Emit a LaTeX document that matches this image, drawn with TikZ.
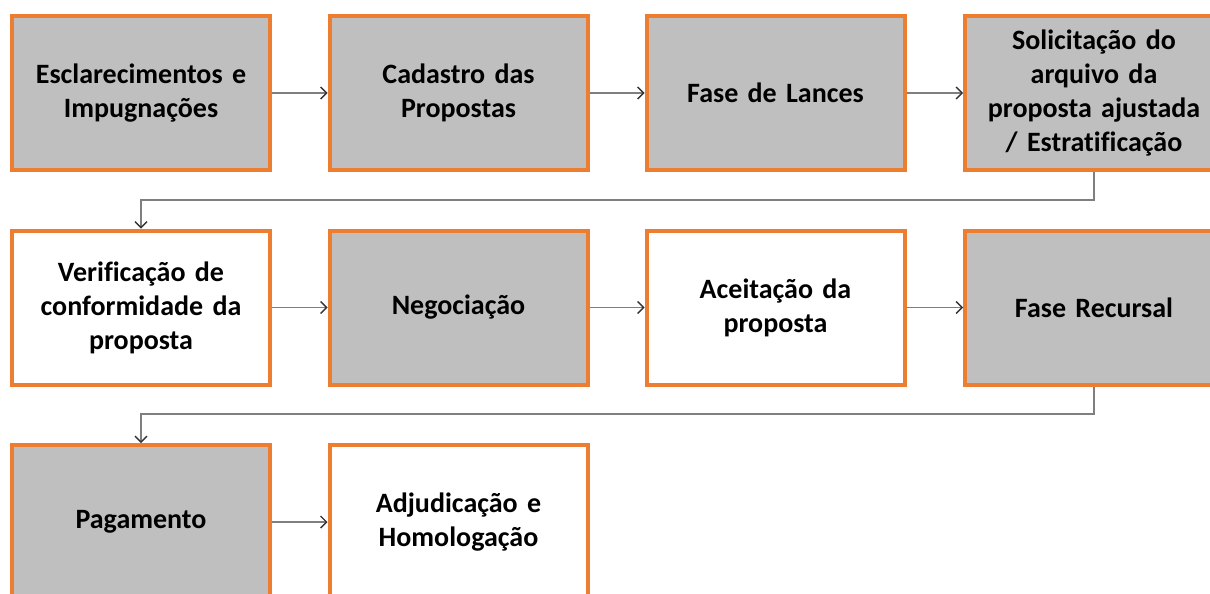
\documentclass[tikz,border=0pt]{standalone}
\usepackage{fontspec}
\setmainfont[Ligatures=NoCommon]{Carlito}
\usetikzlibrary{arrows.meta}
\definecolor{orng}{HTML}{ED7D31}
\definecolor{gfill}{HTML}{BFBFBF}
\definecolor{lgray}{HTML}{7F7F7F}
\tikzset{
  stepbox/.style={draw=orng, line width=4pt, minimum width=258pt, minimum height=154pt,
    align=center, text width=250pt, font=\bfseries\fontsize{28}{34}\selectfont, inner sep=0pt},
  grayb/.style={stepbox, fill=gfill},
  whiteb/.style={stepbox, fill=white},
  conn/.style={draw=lgray, line width=1.6pt, -{Straight Barb[length=6pt,width=12pt,line width=1.4pt,color=black!80]}},
}
\begin{document}
\begin{tikzpicture}[x=1pt,y=-1pt]
\useasboundingbox (0,0) rectangle (1210,594);
\clip (0,0) rectangle (1210,594);
\fill[white] (0,0) rectangle (1210,594);
% row 1
\node[grayb] (a1) at (141,93) {Esclarecimentos e\\Impugnações};
\node[grayb] (a2) at (458.5,93) {Cadastro das\\Propostas};
\node[grayb] (a3) at (775.5,93) {Fase de Lances};
\node[grayb] (a4) at (1094,93) {Solicitação do\\arquivo da\\proposta ajustada\\/ Estratificação};
% row 2
\node[whiteb] (b1) at (141,307.5) {Verificação de\\conformidade da\\proposta};
\node[grayb] (b2) at (458.5,307.5) {Negociação};
\node[whiteb] (b3) at (775.5,307.5) {Aceitação da\\proposta};
\node[grayb] (b4) at (1094,307.5) {Fase Recursal};
% row 3
\node[grayb] (c1) at (141,522) {Pagamento};
\node[whiteb] (c2) at (458.5,522) {Adjudicação e\\Homologação};
% connectors
\draw[conn] (a1) -- (a2);
\draw[conn] (a2) -- (a3);
\draw[conn] (a3) -- (a4);
\coordinate (k1) at (1094,200);
\coordinate (k2) at (141,200);
\draw[conn] (a4.south) -- (k1) -- (k2) -- (b1.north);
\draw[conn] (b1) -- (b2);
\draw[conn] (b2) -- (b3);
\draw[conn] (b3) -- (b4);
\coordinate (m1) at (1094,414);
\coordinate (m2) at (141,414);
\draw[conn] (b4.south) -- (m1) -- (m2) -- (c1.north);
\draw[conn] (c1) -- (c2);
\end{tikzpicture}
\end{document}
